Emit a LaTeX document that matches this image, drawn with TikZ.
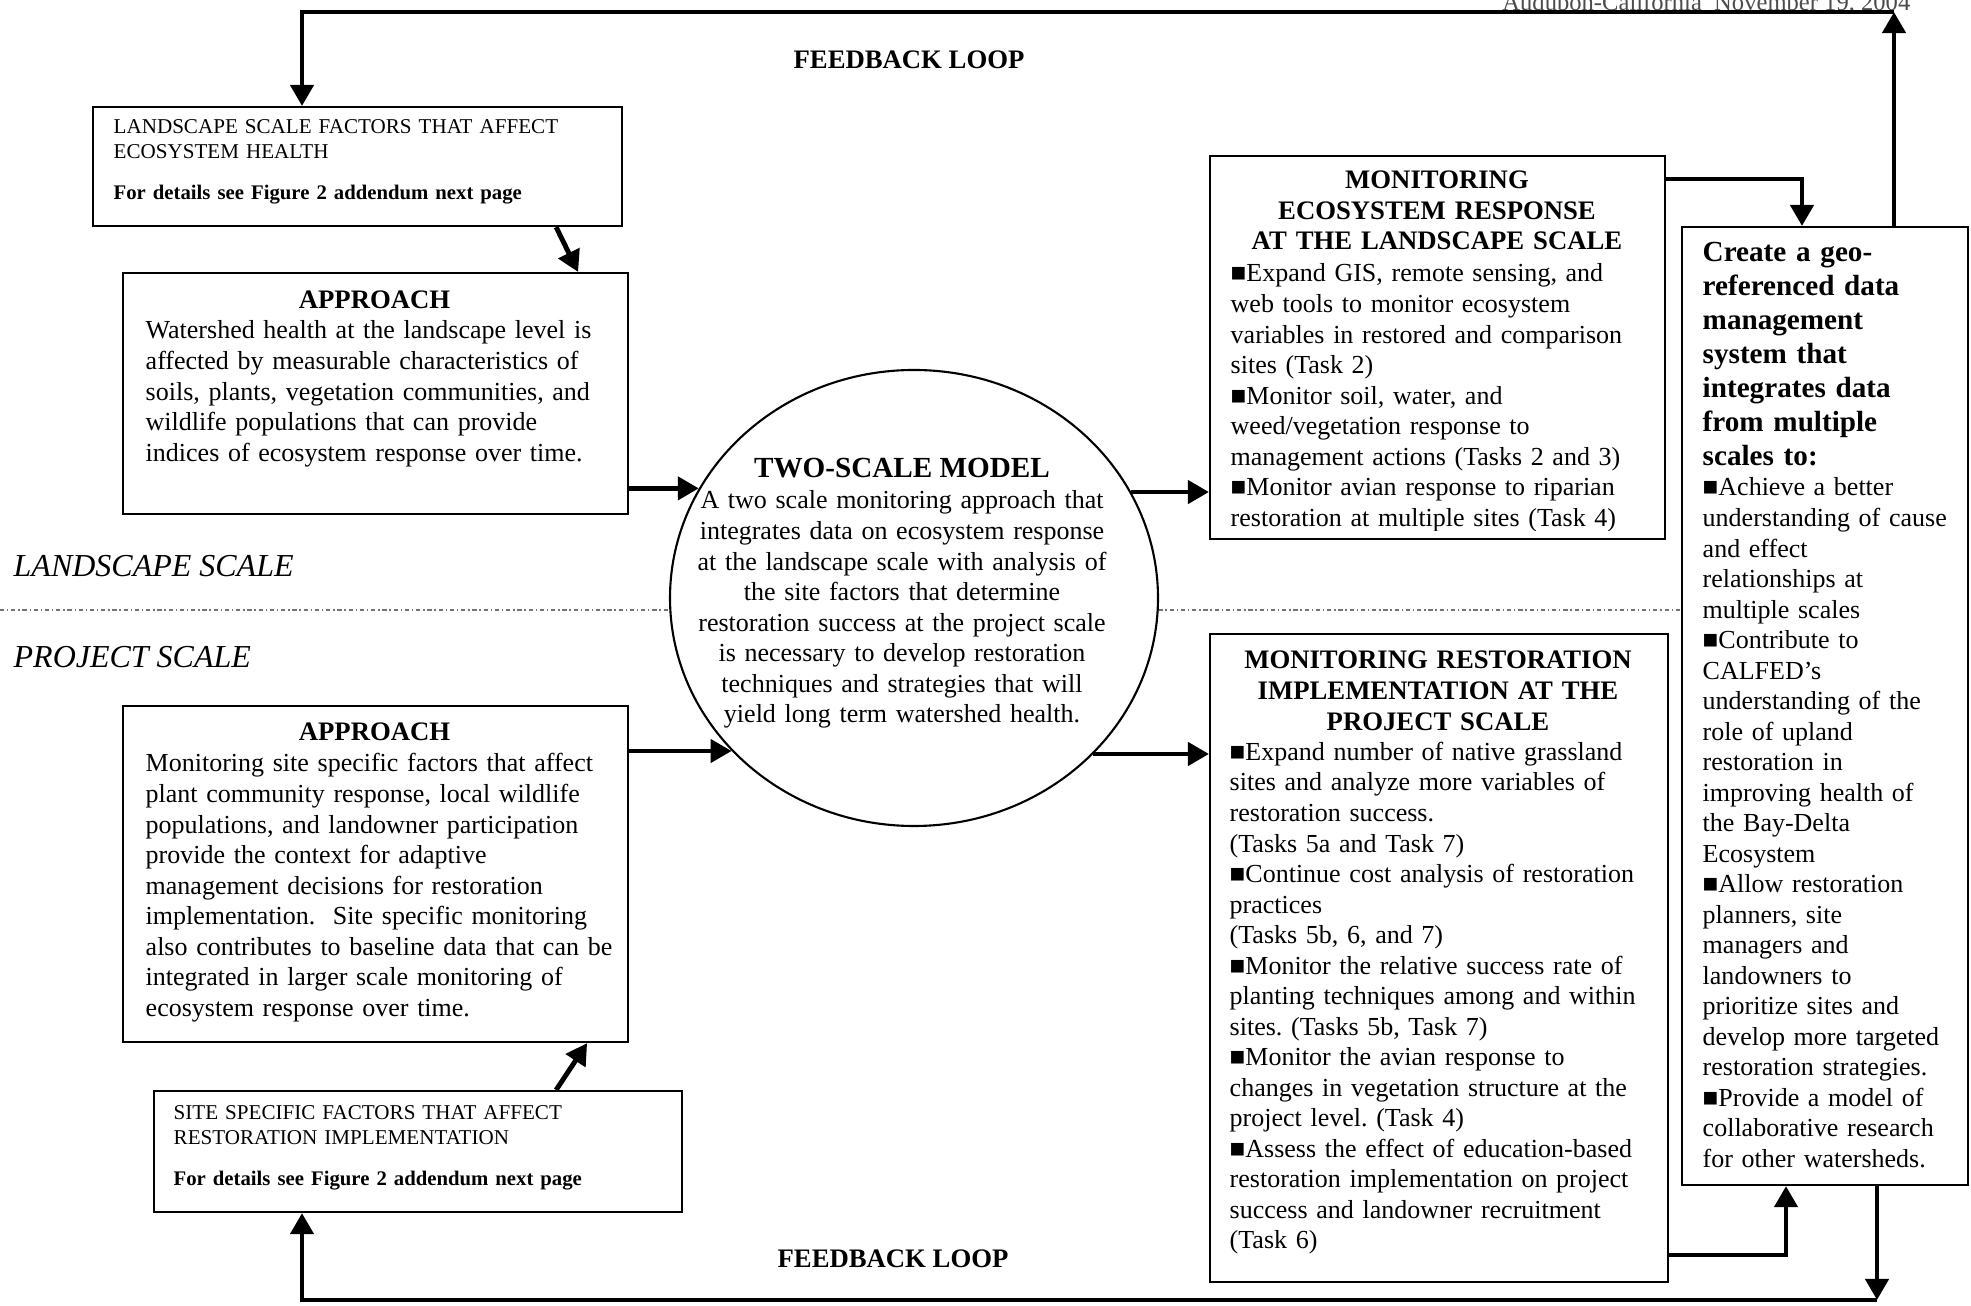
\documentclass[tikz,border=0pt]{standalone}
\usepackage{fontspec}
\setmainfont{Liberation Serif}
\usetikzlibrary{arrows.meta,shapes.geometric,backgrounds}

\newcommand{\bodyf}{\fontsize{7.4}{8.68}\selectfont\frenchspacing}
\newcommand{\boldf}{\fontsize{7.6}{8.68}\selectfont\bfseries}
\newcommand{\smallf}{\fontsize{6}{7.1}\selectfont}
\newcommand{\bigf}{\fontsize{8.3}{9.65}\selectfont}
\newcommand{\sq}{■}

\begin{document}
\begin{tikzpicture}[
  box/.style={draw,line width=0.6pt,fill=white,inner sep=0pt,anchor=north west},
  body/.style={inner sep=0pt,anchor=base west,align=left,font=\bodyf},
  head/.style={inner sep=0pt,anchor=base,align=center,font=\boldf},
  arr/.style={line width=1.4pt,-{Triangle[length=6pt,width=6.5pt]}},
  scaleline/.style={draw=black!55,line width=0.4pt,
            dash pattern=on 1.2pt off 0.8pt on 0.4pt off 0.8pt}]

\useasboundingbox (0,0) rectangle (19.71,-13.06);

\node[anchor=base east,inner sep=0pt,font=\fontsize{7}{8}\selectfont,text=black!70]
  (date) at (19.11,-0.11) {Audubon-California~ November 19, 2004};

% scale labels
\node[anchor=base west,inner sep=0pt,font=\fontsize{9.1}{11}\selectfont\itshape] (lsc) at (0.13,-5.77) {LANDSCAPE SCALE};
\node[anchor=base west,inner sep=0pt,font=\fontsize{9.1}{11}\selectfont\itshape] (psc) at (0.13,-6.68) {PROJECT SCALE};

% feedback labels
\node[head] (fbt) at (9.09,-0.69) {FEEDBACK LOOP};
\node[head] (fbb) at (8.93,-12.68) {FEEDBACK LOOP};

% left column
\node[box,minimum width=5.29cm,minimum height=1.19cm] (lf) at (0.92,-1.06) {};
\node[body,font=\smallf,text width=5.2cm] (lftx) at (1.13,-1.34)
  {LANDSCAPE SCALE FACTORS THAT AFFECT\\ECOSYSTEM HEALTH\\[4.5pt]{\fontsize{5.9}{7.1}\selectfont\bfseries For details see Figure 2 addendum next page}};

\node[box,minimum width=5.05cm,minimum height=2.41cm] (ap1) at (1.22,-2.72) {};
\node[head] (ap1h) at (3.745,-3.09) {APPROACH};
\node[body,text width=5.2cm] (ap1tx) at (1.45,-3.39)
  {Watershed health at the landscape level is\\
   affected by measurable characteristics of\\
   soils, plants, vegetation communities, and\\
   wildlife populations that can provide\\
   indices of ecosystem response over time.};

\node[box,minimum width=5.05cm,minimum height=3.36cm] (ap2) at (1.22,-7.05) {};
\node[head] (ap2h) at (3.745,-7.41) {APPROACH};
\node[body,text width=5.2cm] (ap2tx) at (1.45,-7.72)
  {Monitoring site specific factors that affect\\
   plant community response, local wildlife\\
   populations, and landowner participation\\
   provide the context for adaptive\\
   management decisions for restoration\\
   implementation.~ Site specific monitoring\\
   also contributes to baseline data that can be\\
   integrated in larger scale monitoring of\\
   ecosystem response over time.};

\node[box,minimum width=5.28cm,minimum height=1.21cm] (ssf) at (1.53,-10.90) {};
\node[body,font=\smallf,text width=5.2cm] (ssftx) at (1.73,-11.20)
  {SITE SPECIFIC FACTORS THAT AFFECT\\RESTORATION IMPLEMENTATION\\[4.5pt]{\fontsize{5.9}{7.1}\selectfont\bfseries For details see Figure 2 addendum next page}};

% two-scale model
\node[draw,ellipse,line width=0.6pt,fill=white,inner sep=0pt,
      minimum width=4.88cm,minimum height=4.56cm] (ell) at (9.14,-5.98) {};
\node[head,font=\bigf\bfseries] (ellh) at (9.02,-4.78) {TWO-SCALE MODEL};
\node[head,font=\bodyf,text width=4.7cm] (elltx) at (9.02,-5.09)
  {A two scale monitoring approach that\\
   integrates data on ecosystem response\\
   at the landscape scale with analysis of\\
   the site factors that determine\\
   restoration success at the project scale\\
   is necessary to develop restoration\\
   techniques and strategies that will\\
   yield long term watershed health.};

% monitoring boxes
\node[box,minimum width=4.55cm,minimum height=3.83cm] (mer) at (12.09,-1.55) {};
\node[head,text width=4.4cm] (merh) at (14.37,-1.89) {MONITORING\\ECOSYSTEM RESPONSE\\AT THE LANDSCAPE SCALE};
\begin{scope}
  \clip (mer.north west) rectangle ([yshift=0.1cm]mer.south east);
  \node[body,text width=4.4cm] (mertx) at (12.30,-2.82)
    {\sq Expand GIS, remote sensing, and\\
     web tools to monitor ecosystem\\
     variables in restored and comparison\\
     sites (Task 2)\\
     \sq Monitor soil, water, and\\
     weed/vegetation response to\\
     management actions (Tasks 2 and 3)\\
     \sq Monitor avian response to riparian\\
     restoration at multiple sites (Task 4)};
\end{scope}

\node[box,minimum width=4.58cm,minimum height=6.48cm] (mri) at (12.09,-6.33) {};
\node[head,text width=4.4cm] (mrih) at (14.38,-6.69) {MONITORING RESTORATION\\IMPLEMENTATION AT THE\\PROJECT SCALE};
\node[body,text width=4.4cm] (mritx) at (12.29,-7.605)
  {\sq Expand number of native grassland\\
   sites and analyze more variables of\\
   restoration success.\\
   (Tasks 5a and Task 7)\\
   \sq Continue cost analysis of restoration\\
   practices\\
   (Tasks 5b, 6, and 7)\\
   \sq Monitor the relative success rate of\\
   planting techniques among and within\\
   sites. (Tasks 5b, Task 7)\\
   \sq Monitor the avian response to\\
   changes in vegetation structure at the\\
   project level. (Task 4)\\
   \sq Assess the effect of education-based\\
   restoration implementation on project\\
   success and landowner recruitment\\
   (Task 6)};

% data management
\node[box,minimum width=2.86cm,minimum height=9.58cm] (dm) at (16.81,-2.26) {};
\node[body,font=\bigf\bfseries,text width=2.8cm] (dmh) at (17.02,-2.62)
  {Create a geo-\\referenced data\\management\\system that\\integrates data\\from multiple\\scales to:};
\node[body,text width=2.8cm] (dmtx) at (17.02,-4.96)
  {\sq Achieve a better\\understanding of cause\\and effect\\relationships at\\multiple scales\\
   \sq Contribute to\\CALFED’s\\understanding of the\\role of upland\\restoration in\\
   improving health of\\the Bay-Delta\\Ecosystem\\
   \sq Allow restoration\\planners, site\\managers and\\landowners to\\prioritize sites and\\
   develop more targeted\\restoration strategies.\\
   \sq Provide a model of\\collaborative research\\for other watersheds.};

% connectors
\draw[arr] ([xshift=-0.67cm]lf.south east) -- ([xshift=-0.51cm]ap1.north east);
\draw[arr] ([xshift=-1.27cm]ssf.north east) -- ([xshift=-0.42cm]ap2.south east);
\foreach \a/\n in {153.3/ap1,220.9/ap2} { \draw[arr] (\n.east |- ell.\a) -- (ell.\a); }
\foreach \a/\n in {26.7/mer,319.1/mri} { \draw[arr] (ell.\a) -- (ell.\a -| \n.west); }

\coordinate (mc) at (18.02,-1.79);
\coordinate (rc) at (17.86,-12.55);
\draw[arr] (mer.east |- mc) -- (mc) -- (mc |- dm.north);
\draw[arr] (mri.east |- rc) -- (rc) -- (rc |- dm.south);

% feedback loops
\coordinate (tr) at (18.94,-0.12);
\coordinate (tl) at (3.02,-0.12);
\draw[arr] (tr |- dm.north) -- (tr);
\draw[arr] (tr) -- (tl) -- (tl |- lf.north);

\coordinate (br) at (18.77,-13.00);
\coordinate (bl) at (3.02,-13.00);
\draw[arr] (br |- dm.south) -- (br);
\draw[arr] (br) -- (bl) -- (bl |- ssf.south);

\begin{scope}[on background layer]
  \coordinate (sl) at (0,-6.10);
  \draw[scaleline] (sl) -- (sl -| dm.west);
\end{scope}
\end{tikzpicture}
\end{document}
